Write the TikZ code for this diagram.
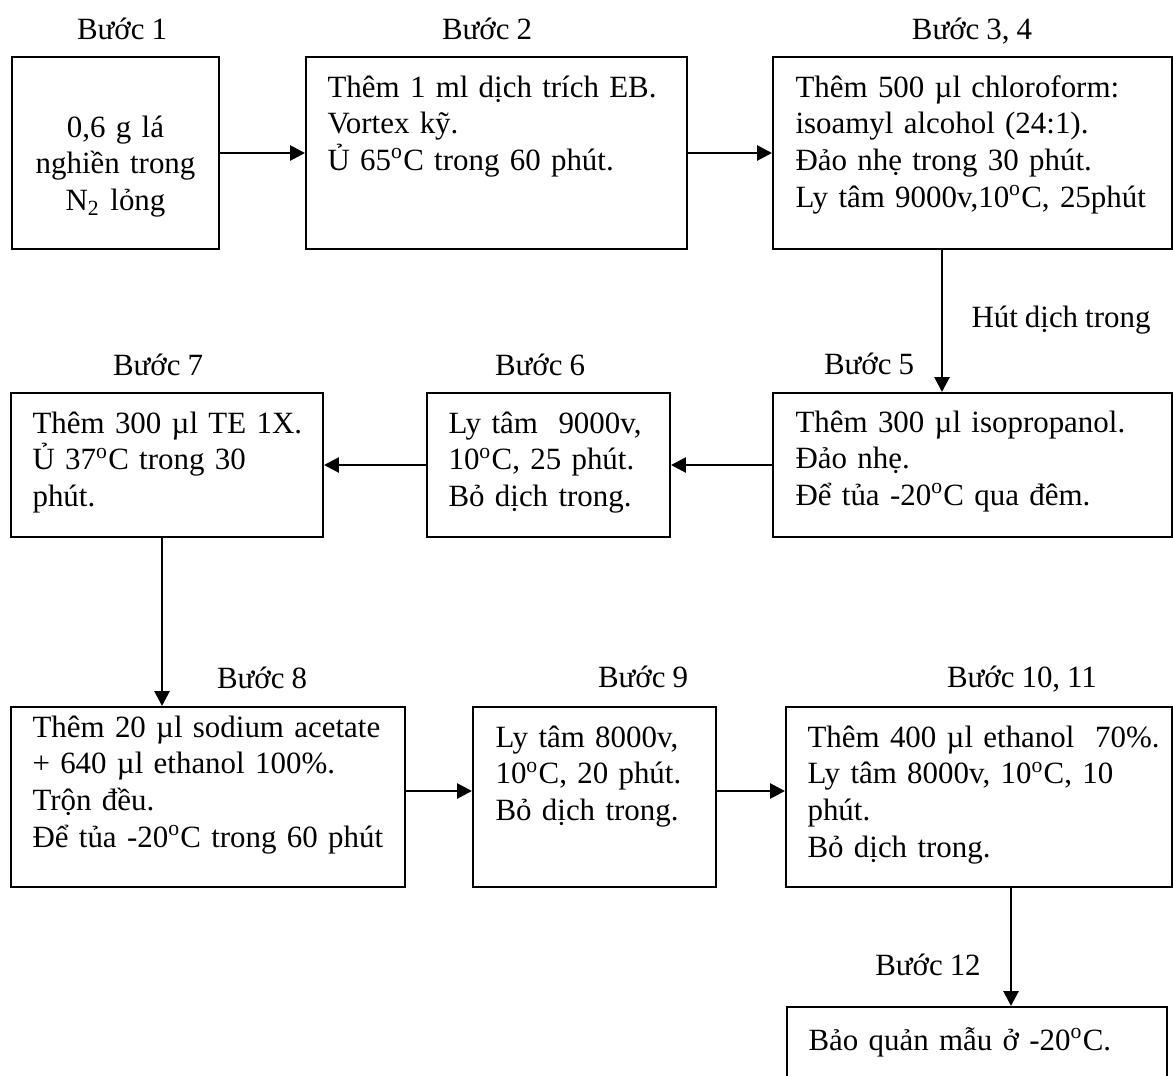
\documentclass[tikz,border=0pt]{standalone}
\usepackage{fontspec}
\setmainfont{Liberation Serif}[WordSpace=0.9]
\usetikzlibrary{arrows.meta}
\usetikzlibrary{positioning}
\tikzset{
    %Define standard arrow tip
    >={Triangle[length=5.6pt,width=5.6pt]},
    % Define box style
    hop/.style={
           draw,
           rectangle,
           line width=0.75pt,
           inner sep=0pt,
           },
    % Define text style
    chu/.style={
           anchor=base west,
           inner sep=0pt,
           text width=160pt,
           align=left,
           font=\fontsize{11.6}{13.8}\selectfont,
           },
    % Define step label style
    buoc/.style={
           anchor=base,
           inner sep=0pt,
           font=\fontsize{11.6}{13.8}\selectfont,
           },
    % Define arrow style
    mui/.style={
           ->,
           line width=1.05pt,
           },
}

\begin{document}
\begin{tikzpicture}[x=0.375pt,y=-0.375pt]
  	\useasboundingbox (0,0) rectangle (1173,1075);
  	\clip (0,0) rectangle (1173,1075);
  	\coordinate (v1) at (942,0);
  	\coordinate (v2) at (162,0);
  	\coordinate (v3) at (1011,0);
  	\coordinate (h1) at (0,791);
  	% row 1
  	\node (s1) at (115.5,153) [hop, minimum width=77.625pt, minimum height=72pt] {};
  	\node (s2) at (496.5,153) [hop, minimum width=142.875pt, minimum height=72pt] {};
  	\node (s34) at (972.5,153) [hop, minimum width=149.625pt, minimum height=72pt] {};
  	\node (l1) at (122,39) [buoc] {Bước 1};
  	\node (l2) at (487,39) [buoc] {Bước 2};
  	\node (l34) at (972,39) [buoc] {Bước 3, 4};
  	\node (t1) at (115.5,137) [chu, anchor=base, align=center, text width=75pt] {0,6 g lá\\ nghiền trong\\ N\textsubscript{2} lỏng};
  	\node (t2) at (327,97) [chu] {Thêm 1 ml dịch trích EB.\\ Vortex kỹ.\\ Ủ 65\textsuperscript{o}C trong 60 phút.};
  	\node (t34) at (795,97) [chu] {Thêm 500 µl chloroform:\\ isoamyl alcohol (24:1).\\ Đảo nhẹ trong 30 phút.\\ Ly tâm 9000v,10\textsuperscript{o}C, 25phút};
  	\node (hut) at (1061,327) [buoc] {Hút dịch trong};
  	% row 2
  	\node (s5) at (972.5,465) [hop, minimum width=149.625pt, minimum height=54pt] {};
  	\node (s6) at (548.5,465) [hop, minimum width=91.125pt, minimum height=54pt] {};
  	\node (s7) at (167,465) [hop, minimum width=117pt, minimum height=54pt] {};
  	\node (l5) at (869,374) [buoc] {Bước 5};
  	\node (l6) at (540,375) [buoc] {Bước 6};
  	\node (l7) at (158,375) [buoc] {Bước 7};
  	\node (t5) at (795,432) [chu] {Thêm 300 µl isopropanol.\\ Đảo nhẹ.\\ Để tủa -20\textsuperscript{o}C qua đêm.};
  	\node (t6) at (448,433) [chu] {Ly tâm\ \ 9000v,\\ 10\textsuperscript{o}C, 25 phút.\\ Bỏ dịch trong.};
  	\node (t7) at (32,433) [chu] {Thêm 300 µl TE 1X.\\ Ủ 37\textsuperscript{o}C trong 30\\ phút.};
  	% row 3
  	\node (s8) at (208,797) [hop, minimum width=147.75pt, minimum height=67.5pt] {};
  	\node (s9) at (594.5,797) [hop, minimum width=91.125pt, minimum height=67.5pt] {};
  	\node (s1011) at (979,797) [hop, minimum width=144.75pt, minimum height=67.5pt] {};
  	\node (l8) at (262,688) [buoc] {Bước 8};
  	\node (l9) at (643,687) [buoc] {Bước 9};
  	\node (l1011) at (1022,687) [buoc] {Bước 10, 11};
  	\node (t8) at (32,737) [chu] {Thêm 20 µl sodium acetate\\ + 640 µl ethanol 100\%.\\ Trộn đều.\\ Để tủa -20\textsuperscript{o}C trong 60 phút};
  	\node (t9) at (495,747) [chu] {Ly tâm 8000v,\\ 10\textsuperscript{o}C, 20 phút.\\ Bỏ dịch trong.};
  	\node (t1011) at (807,747) [chu] {Thêm 400 µl ethanol\ \ 70\%.\\ Ly tâm 8000v, 10\textsuperscript{o}C, 10\\ phút.\\ Bỏ dịch trong.};
  	% last step
  	\node (s12) at (977,1053.5) [hop, minimum width=142.5pt, minimum height=34.875pt] {};
  	\node (l12) at (928,975) [buoc] {Bước 12};
  	\node (t12) at (808,1050) [chu] {Bảo quản mẫu ở -20\textsuperscript{o}C.};
  	\draw [mui] (s1) -- (s2);
  	\draw [mui] (s2) -- (s34);
  	\draw [mui] (s34.south -| v1) -- (s5.north -| v1);
  	\draw [mui] (s5) -- (s6);
  	\draw [mui] (s6) -- (s7);
  	\draw [mui] (s7.south -| v2) -- (s8.north -| v2);
  	\draw [mui] (s8.east |- h1) -- (s9.west |- h1);
  	\draw [mui] (s9.east |- h1) -- (s1011.west |- h1);
  	\draw [mui] (s1011.south -| v3) -- (s12.north -| v3);
\end{tikzpicture}
\end{document}
